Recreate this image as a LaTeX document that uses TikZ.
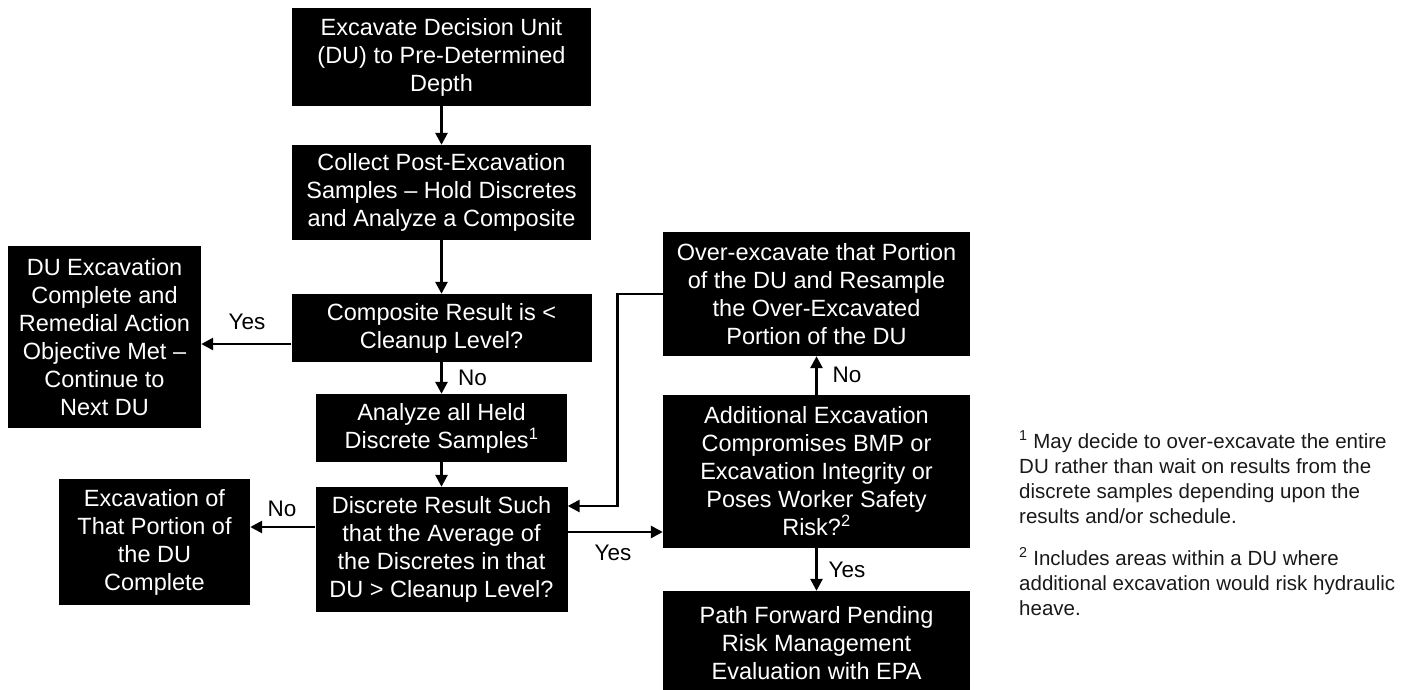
\documentclass[tikz,border=0pt]{standalone}
\usepackage{fontspec}
\setmainfont{Liberation Sans}
\usetikzlibrary{arrows.meta}
\begin{document}
\begin{tikzpicture}[x=1pt,y=-1pt,
  box/.style={rectangle, fill=black, text=white, align=center, inner sep=0pt,
    font=\fontsize{23.5}{28}\selectfont},
  arr/.style={line width=2.7pt, -{Triangle[length=12pt,width=12pt]}},
  lbl/.style={inner sep=0pt, font=\fontsize{22.5}{27}\selectfont},
  note/.style={inner sep=0pt, align=left, text=black!90, font=\fontsize{20.5}{25}\selectfont}]
\useasboundingbox (0,0) rectangle (1412,689);

\node[box, minimum width=299pt, minimum height=98pt] (b1) at (441.5,57)
  {Excavate Decision Unit\\(DU) to Pre-Determined\\Depth};
\node[box, minimum width=299pt, minimum height=95pt] (b2) at (441.5,192.5)
  {Collect Post-Excavation\\Samples – Hold Discretes\\and Analyze a Composite};
\node[box, minimum width=300pt, minimum height=68pt] (b3) at (441.5,328)
  {Composite Result is <\\Cleanup Level?};
\node[box, minimum width=251pt, minimum height=68pt] (b4) at (441.5,428)
  {Analyze all Held\\Discrete Samples\textsuperscript{1}};
\node[box, minimum width=252pt, minimum height=125pt] (b5) at (441.5,549.5)
  {Discrete Result Such\\that the Average of\\the Discretes in that\\DU > Cleanup Level?};
\node[box, minimum width=193pt, minimum height=182pt] (du) at (104.5,337)
  {DU Excavation\\Complete and\\Remedial Action\\Objective Met –\\Continue to\\Next DU};
\node[box, minimum width=191pt, minimum height=126pt] (ex) at (154.5,542)
  {Excavation of\\That Portion of\\the DU\\Complete};
\node[box, minimum width=307pt, minimum height=124pt] (ov) at (816.5,294)
  {Over-excavate that Portion\\of the DU and Resample\\the Over-Excavated\\Portion of the DU};
\node[box, minimum width=307pt, minimum height=153pt] (ad) at (816.5,471.5)
  {Additional Excavation\\Compromises BMP or\\Excavation Integrity or\\Poses Worker Safety\\Risk?\textsuperscript{2}};
\node[box, minimum width=307pt, minimum height=104pt] (pf) at (816.5,643)
  {Path Forward Pending\\Risk Management\\Evaluation with EPA};

\draw[arr] (b1) -- (b2);
\draw[arr] (b2) -- (b3);
\draw[arr] (b3) -- (b4);
\draw[arr] (b4) -- (b5);
\draw[arr] ([yshift=-16pt]b3.west) -- ([yshift=-16pt]b3.west -| du.east);
\draw[arr] ([yshift=22.5pt]b5.west) -- ([yshift=22.5pt]b5.west -| ex.east);
\draw[arr] ([yshift=17.5pt]b5.east) -- ([yshift=17.5pt]b5.east -| ad.west);
\draw[arr] (ad) -- (ov);
\draw[arr] (ad) -- (pf);
\draw[arr] (ov.west) -- ++(-45,0) |- ([yshift=43.5pt]b5.east);

\node[lbl] (lyes1) at (247,322) {Yes};
\node[lbl, anchor=west] (lno1) at (458,378) {No};
\node[lbl] (lno2) at (282,509) {No};
\node[lbl] (lyes2) at (613,553) {Yes};
\node[lbl] (lno3) at (847,375) {No};
\node[lbl] (lyes3) at (847,570) {Yes};

\node[note, anchor=base west] (n1) at (1019,523)
  {\textsuperscript{1} May decide to over-excavate the entire\\DU rather than wait on results from the\\discrete samples depending upon the\\results and/or schedule.};
\node[note, anchor=base west] (n2) at (1019,615)
  {\textsuperscript{2} Includes areas within a DU where\\additional excavation would risk hydraulic\\heave.};
\end{tikzpicture}
\end{document}
